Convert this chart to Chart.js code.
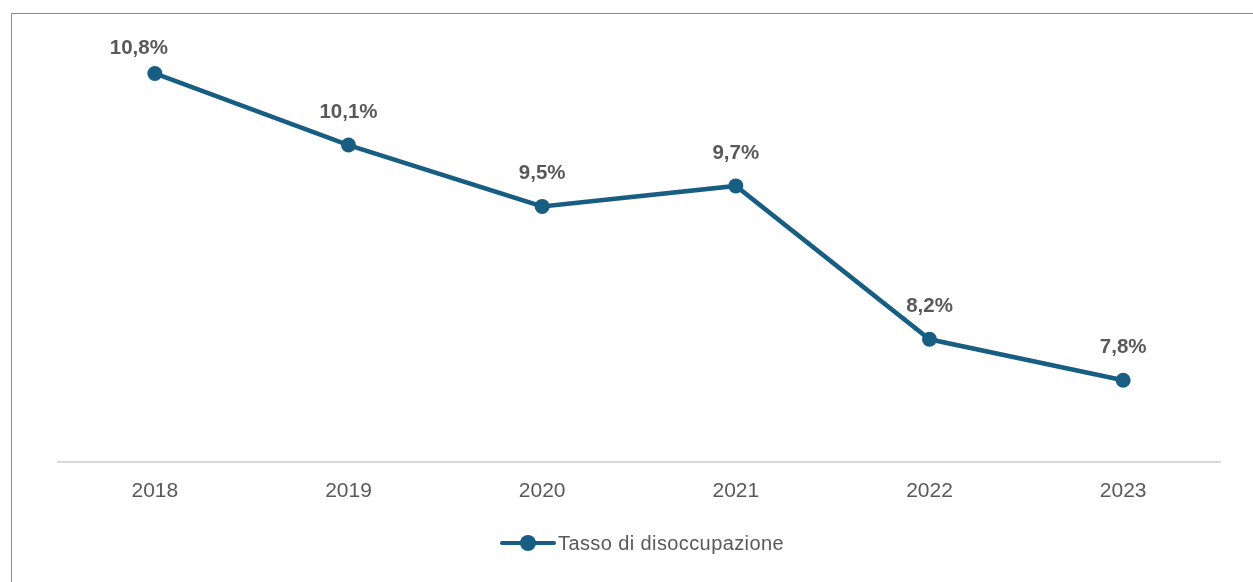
<!DOCTYPE html>
<html>
<head>
<meta charset="utf-8">
<script src="https://cdn.jsdelivr.net/npm/chart.js@4.4.1/dist/chart.umd.min.js"></script>
<style>
    html, body { margin: 0; padding: 0; background: #fff; }
    body { width: 1253px; height: 582px; position: relative; overflow: hidden; font-family: "Liberation Sans", Arial, sans-serif; }
    #frame { position: absolute; left: 11px; top: 13px; width: 1300px; height: 600px; border-top: 1px solid #8c8c8c; border-left: 1px solid #8c8c8c; }
    #wrap { position: absolute; left: 0; top: 0; width: 1253px; height: 582px; }
    #legend { position: absolute; top: 530px; left: 500px; height: 26px; display: flex; align-items: center; color: #595959; font-size: 20px; letter-spacing: 0.4px; }
    #legend .sym { position: relative; width: 56px; height: 26px; margin-right: 2px; }
    #legend .sym .ln { position: absolute; left: 0; right: 0; top: 11px; height: 4px; border-radius: 2px; background: #175e82; }
    #legend .sym .pt { position: absolute; left: 20px; top: 5px; width: 16px; height: 16px; border-radius: 50%; background: #175e82; }
</style>
</head>
<body>
<div id="frame"></div>
<div id="wrap"><canvas id="chart" width="1253" height="582"></canvas></div>
<div id="legend"><span class="sym"><span class="ln"></span><span class="pt"></span></span><span id="legend-text"></span></div>
<script>
// Data
const years = ['2018', '2019', '2020', '2021', '2022', '2023'];
const unemploymentRate = [10.8, 10.1, 9.5, 9.7, 8.2, 7.8];
const seriesName = 'Tasso di disoccupazione';

const lineColor = '#175e82';
const textColor = '#595959';

document.getElementById('legend-text').textContent = seriesName;

// Value labels above the points (Italian decimal comma)
const valueLabels = {
    id: 'valueLabels',
    afterDatasetsDraw(chart) {
        const ctx = chart.ctx;
        const meta = chart.getDatasetMeta(0);
        ctx.save();
        ctx.font = 'bold 20.5px "Liberation Sans", Arial, sans-serif';
        ctx.fillStyle = textColor;
        ctx.textAlign = 'center';
        ctx.textBaseline = 'middle';
        meta.data.forEach((pt, i) => {
            const text = unemploymentRate[i].toFixed(1).replace('.', ',') + '%';
            let y = Math.max(pt.y - 33, 48);
            let x = pt.x;
            // first label sits a bit to the left, as in the original
            if (i === 0) x -= 16;
            ctx.fillText(text, x, y);
        });
        ctx.restore();
    }
};

const ctx = document.getElementById('chart').getContext('2d');
new Chart(ctx, {
    type: 'line',
    data: {
        labels: years,
        datasets: [{
            label: seriesName,
            data: unemploymentRate,
            borderColor: lineColor,
            backgroundColor: lineColor,
            borderWidth: 4.5,
            pointRadius: 7.5,
            pointHoverRadius: 7.5,
            pointBackgroundColor: lineColor,
            pointBorderWidth: 0,
            tension: 0
        }]
    },
    options: {
        responsive: false,
        animation: false,
        layout: { padding: { left: 58, right: 33, top: 53, bottom: 0 } },
        plugins: {
            legend: { display: false },
            tooltip: { enabled: false }
        },
        scales: {
            x: {
                offset: true,
                grid: { display: false },
                border: { color: '#d9d9d9', width: 2 },
                ticks: {
                    color: textColor,
                    font: { family: '"Liberation Sans", Arial, sans-serif', size: 21 },
                    padding: 9
                },
                afterFit(scale) { scale.height = 120; }
            },
            y: {
                display: false,
                min: 7,
                max: 11
            }
        }
    },
    plugins: [valueLabels]
});
</script>
</body>
</html>
